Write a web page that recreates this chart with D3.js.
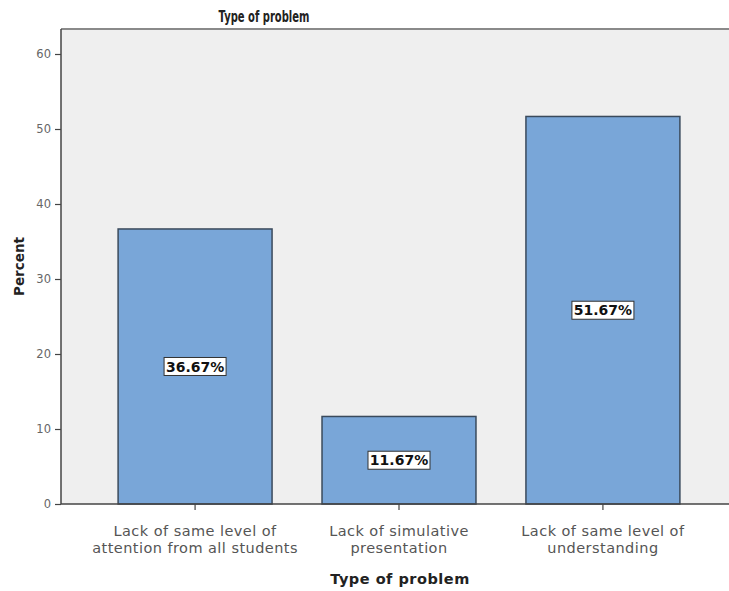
<!DOCTYPE html>
<html>
<head>
<meta charset="utf-8">
<script src="https://cdn.jsdelivr.net/npm/d3@7"></script>
<style>
  html, body { margin: 0; padding: 0; background: #ffffff; }
  svg { display: block; }
</style>
</head>
<body>
<div id="chart"></div>
<script>
// Survey results: share of respondents per type of problem
const categories = [
  ["Lack of same level of", "attention from all students"],
  ["Lack of simulative", "presentation"],
  ["Lack of same level of", "understanding"]
];
const categoryKeys = ["attention", "simulative", "understanding"];
const percents = [36.67, 11.67, 51.67];
const yTicks = [0, 10, 20, 30, 40, 50, 60];

const W = 729, H = 591;
const plot = { left: 61, top: 29, right: 737, bottom: 504 };

const svg = d3.select("#chart").append("svg")
  .attr("width", W).attr("height", H);

const x = d3.scaleBand()
  .domain(categoryKeys)
  .range([plot.left, plot.right])
  .paddingInner(0.245)
  .paddingOuter(0.28);

const y = d3.scaleLinear()
  .domain([0, 60])
  .range([plot.bottom, plot.bottom - 450]);

// Plot background and frame top
svg.append("rect")
  .attr("x", plot.left).attr("y", plot.top)
  .attr("width", W - plot.left).attr("height", plot.bottom - plot.top)
  .attr("fill", "#efefef");
svg.append("line")
  .attr("x1", plot.left).attr("x2", W)
  .attr("y1", plot.top).attr("y2", plot.top)
  .attr("stroke", "#8a8a8a").attr("stroke-width", 2);

// Bars
svg.append("g").selectAll("rect")
  .data(percents)
  .join("rect")
  .attr("x", (d, i) => x(categoryKeys[i]))
  .attr("y", d => y(d))
  .attr("width", x.bandwidth())
  .attr("height", d => y(0) - y(d))
  .attr("fill", "#79a6d8")
  .attr("stroke", "#3a4a5c")
  .attr("stroke-width", 1.5);

// Y axis
const yAxis = d3.axisLeft(y).tickValues(yTicks).tickSize(6).tickSizeOuter(0).tickPadding(4);
const gy = svg.append("g")
  .attr("transform", `translate(${plot.left},0)`)
  .call(yAxis);
gy.select(".domain").remove();
gy.selectAll(".tick line").attr("stroke", "#444").attr("stroke-width", 1.2);
gy.selectAll(".tick text")
  .attr("fill", "#666")
  .style("font-family", "'DejaVu Sans', sans-serif")
  .style("font-size", "11.5px");
svg.append("line")
  .attr("x1", plot.left).attr("x2", plot.left)
  .attr("y1", plot.top).attr("y2", plot.bottom)
  .attr("stroke", "#444").attr("stroke-width", 1.5);

// X axis
const xAxis = d3.axisBottom(x).tickSize(6).tickSizeOuter(0).tickFormat("");
const gx = svg.append("g")
  .attr("transform", `translate(0,${plot.bottom})`)
  .call(xAxis);
gx.select(".domain").remove();
gx.selectAll(".tick line").attr("stroke", "#444").attr("stroke-width", 1.2);
svg.append("line")
  .attr("x1", plot.left).attr("x2", W)
  .attr("y1", plot.bottom).attr("y2", plot.bottom)
  .attr("stroke", "#444").attr("stroke-width", 1.5);

// Category labels (two lines each)
const catText = svg.append("g").selectAll("text")
  .data(categories)
  .join("text")
  .attr("x", (d, i) => x(categoryKeys[i]) + x.bandwidth() / 2)
  .attr("y", 536)
  .attr("text-anchor", "middle")
  .attr("fill", "#555")
  .style("font-family", "'DejaVu Sans', sans-serif")
  .style("font-size", "14.5px")
  .style("letter-spacing", "0.45px");
catText.selectAll("tspan")
  .data(d => d)
  .join("tspan")
  .attr("x", function () { return d3.select(this.parentNode).attr("x"); })
  .attr("dy", (d, i) => i === 0 ? 0 : 17)
  .text(d => d);

// Value labels in boxes at half bar height
const labels = svg.append("g").selectAll("g")
  .data(percents)
  .join("g")
  .attr("transform", (d, i) =>
    `translate(${x(categoryKeys[i]) + x.bandwidth() / 2},${y(d / 2)})`);
labels.append("rect")
  .attr("x", -31).attr("y", -9)
  .attr("width", 62).attr("height", 18)
  .attr("fill", "#ffffff")
  .attr("stroke", "#333")
  .attr("stroke-width", 1);
labels.append("text")
  .attr("text-anchor", "middle")
  .attr("dy", "0.36em")
  .attr("fill", "#111")
  .style("font-family", "'DejaVu Sans', sans-serif")
  .style("font-weight", "bold")
  .style("font-size", "14px")
  .text(d => d.toFixed(2) + "%");

// Titles
svg.append("text")
  .attr("x", 264).attr("y", 22)
  .attr("text-anchor", "middle")
  .attr("textLength", 91)
  .attr("lengthAdjust", "spacingAndGlyphs")
  .attr("fill", "#222")
  .style("font-family", "'DejaVu Sans', sans-serif")
  .style("font-weight", "bold")
  .style("font-size", "15px")
  .text("Type of problem");

svg.append("text")
  .attr("x", 400).attr("y", 584)
  .attr("text-anchor", "middle")
  .attr("fill", "#222")
  .style("font-family", "'DejaVu Sans', sans-serif")
  .style("font-weight", "bold")
  .style("font-size", "14.5px")
  .style("letter-spacing", "0.5px")
  .text("Type of problem");

svg.append("text")
  .attr("transform", `translate(24,${(plot.top + plot.bottom) / 2}) rotate(-90)`)
  .attr("text-anchor", "middle")
  .attr("fill", "#222")
  .style("font-family", "'DejaVu Sans', sans-serif")
  .style("font-weight", "bold")
  .style("font-size", "13.5px")
  .text("Percent");
</script>
</body>
</html>
